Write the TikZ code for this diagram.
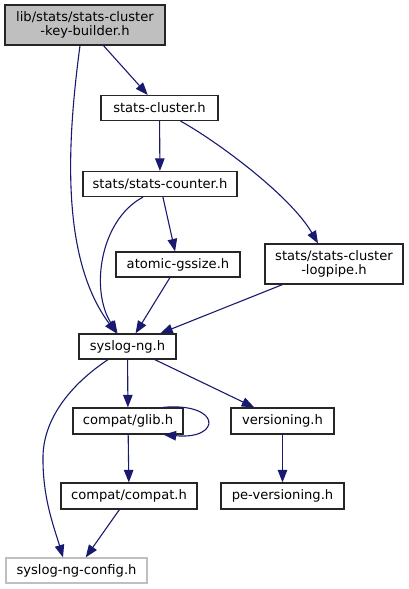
\documentclass[tikz,border=0pt]{standalone}
\usepackage{fontspec}
\setmainfont{DejaVu Sans}
\usetikzlibrary{arrows.meta}
\definecolor{edgec}{HTML}{191970}
\definecolor{rootfill}{HTML}{BFBFBF}
\definecolor{greyb}{HTML}{BFBFBF}
\begin{document}
\begin{tikzpicture}[x=1pt,y=-1pt,
  box/.style={draw=black!85, line width=1.2pt, fill=white, inner sep=0pt, align=center,
    font=\fontsize{13.1}{14.5}\selectfont},
  edge/.style={draw=edgec, line width=1.1pt, -{Triangle[length=12.5pt,width=9.5pt]}}]
\useasboundingbox (0,0) rectangle (409,589);
\node[box, fill=rootfill, minimum width=160pt, minimum height=40pt] (root) at (85,25) {lib/stats/stats-cluster\\-key-builder.h};
\node[box, minimum width=117pt, minimum height=25pt] (sc) at (159.5,108) {stats-cluster.h};
\node[box, minimum width=154pt, minimum height=25pt] (cnt) at (160,184) {stats/stats-counter.h};
\node[box, minimum width=124pt, minimum height=25pt] (atomic) at (178,264.5) {atomic-gssize.h};
\node[box, minimum width=138pt, minimum height=40pt] (logpipe) at (334,264) {stats/stats-cluster\\-logpipe.h};
\node[box, minimum width=97pt, minimum height=25pt] (syslog) at (127.5,346.5) {syslog-ng.h};
\node[box, minimum width=110pt, minimum height=26pt] (glib) at (128,421) {compat/glib.h};
\node[box, minimum width=103pt, minimum height=26pt] (vers) at (282.5,421) {versioning.h};
\node[box, minimum width=136pt, minimum height=26pt] (compat) at (129,496) {compat/compat.h};
\node[box, minimum width=123pt, minimum height=26pt] (pever) at (282.5,496) {pe-versioning.h};
\node[box, draw=greyb, minimum width=141pt, minimum height=25pt] (config) at (76.5,570.5) {syslog-ng-config.h};

\draw[edge] (root) -- (sc);
\draw[edge] ([xshift=-5pt]root.south) .. controls (66,150) and (62,260) .. ([xshift=-11pt]syslog.north);
\draw[edge] (sc) -- (cnt);
\draw[edge] ([xshift=21pt]sc.south) .. controls (215,140) and (290,195) .. ([xshift=-16pt]logpipe.north);
\draw[edge] ([xshift=-17pt]cnt.south) .. controls (100,220) and (90,290) .. ([xshift=-10pt]syslog.north);
\draw[edge] (cnt) -- (atomic);
\draw[edge] (atomic) -- (syslog);
\draw[edge] (logpipe) -- (syslog);
\draw[edge] (syslog) -- (glib);
\draw[edge] (syslog) -- (vers);
\draw[edge] ([xshift=-19.5pt]syslog.south) .. controls (70,385) and (42,420) .. (43,460) .. controls (43,500) and (55,530) .. ([xshift=-13.5pt]config.north);
\draw[edge] ([xshift=-21pt]glib.north east) .. controls (222,402) and (222,440) .. ([xshift=-20pt]glib.south east);
\draw[edge] (glib) -- (compat);
\draw[edge] (vers) -- (pever);
\draw[edge] (compat) -- (config);
\end{tikzpicture}
\end{document}
